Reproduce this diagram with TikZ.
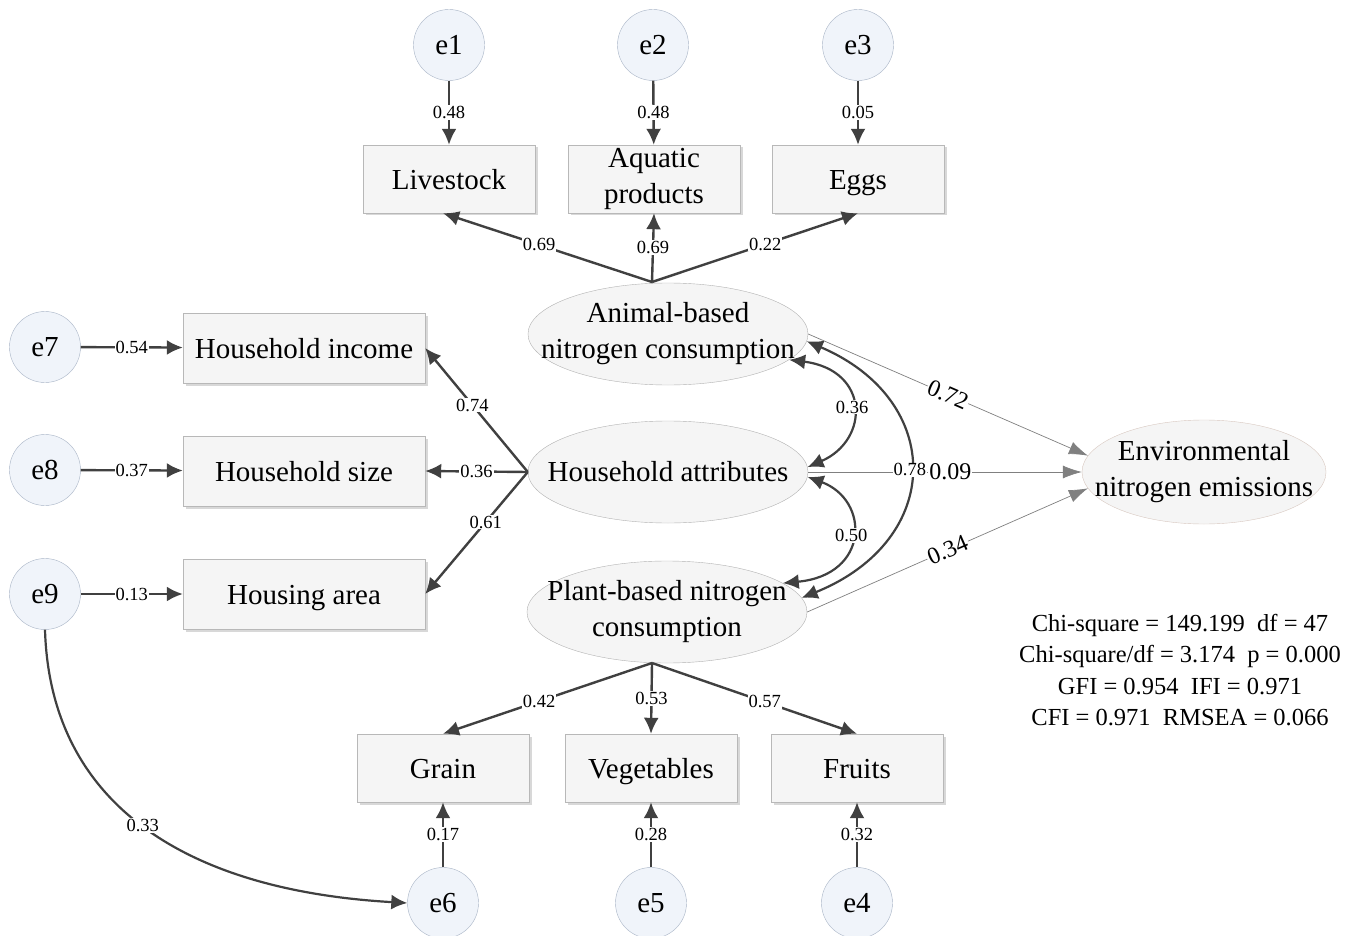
\documentclass[tikz,border=0pt]{standalone}
\usepackage{fontspec}
\setmainfont{Liberation Serif}
\usetikzlibrary{shapes.geometric,arrows.meta,shadows}
\newcommand\figbig{\fontsize{29}{36}\selectfont}
\newcommand\figsmall{\fontsize{18.5}{20}\selectfont}
\newcommand\figmid{\fontsize{24}{26}\selectfont}
\newcommand\nd[1]{\smash{#1}\vphantom{l}}
\definecolor{arrowc}{HTML}{404040}
\definecolor{errfill}{HTML}{F0F4FA}
\definecolor{errdraw}{HTML}{A8B4C6}
\definecolor{envdraw}{HTML}{D8C8C0}
\begin{document}
\begin{tikzpicture}[x=1pt,y=-1pt,
  box/.style={draw=black!28, fill=black!4, minimum width=172pt, minimum height=68pt, inner sep=0pt,
    font=\figbig, align=center, drop shadow={shadow xshift=2.5pt,shadow yshift=-2.5pt,fill=black!30,opacity=.5}},
  wbox/.style={box, minimum width=242pt, minimum height=70pt},
  lat/.style={ellipse, draw=black!30, fill=black!4, minimum width=280pt, minimum height=102pt,
    inner xsep=-60pt, inner ysep=-20pt, font=\figbig, align=center},
  envlat/.style={lat, draw=envdraw, minimum width=244pt, minimum height=104pt},
  err/.style={circle, draw=errdraw, fill=errfill, minimum size=71pt, inner sep=0pt, font=\figbig},
  pth/.style={draw=arrowc, line width=2.4pt, -{Latex[length=16pt,width=15pt]}},
  cov/.style={draw=arrowc, line width=2.2pt, {Latex[length=16pt,width=15pt]}-{Latex[length=16pt,width=15pt]}},
  thinp/.style={draw=black!50, line width=0.7pt, -{Latex[length=19pt,width=13pt]}},
  lab/.style={font=\figsmall, fill=white, inner sep=1pt},
  mlab/.style={font=\figmid, fill=white, inner sep=1pt}]
\useasboundingbox (0,0) rectangle (1354,936);
\fill[white] (0,0) rectangle (1354,936);

% top error terms and indicators
\node[err] (e1) at (449,45) {e1};
\node[err] (e2) at (653,45) {e2};
\node[err] (e3) at (858,45) {e3};
\node[box] (liv) at (449,179) {\nd{Livestock}};
\node[box] (aqu) at (654,179) {Aquatic\\products};
\node[box] (egg) at (858,179) {\nd{Eggs}};

% latent variables
\node[lat] (an) at (668,334) {Animal-based\\nitrogen consumption};
\node[lat] (ha) at (668,472) {Household attributes};
\node[lat] (pl) at (667,612) {Plant-based nitrogen\\consumption};
\node[envlat] (env) at (1204,472) {Environmental\\nitrogen emissions};

% left indicators
\node[wbox] (hi) at (304,348) {\nd{Household income}};
\node[wbox] (hs) at (304,471) {\nd{Household size}};
\node[wbox] (har) at (304,594) {\nd{Housing area}};
\node[err] (e7) at (45,347) {e7};
\node[err] (e8) at (45,470) {e8};
\node[err] (e9) at (45,594) {e9};

% bottom indicators
\node[box] (gr) at (443,768) {\nd{Grain}};
\node[box] (veg) at (651,768) {\nd{Vegetables}};
\node[box] (fru) at (857,768) {\nd{Fruits}};
\node[err] (e6) at (443,903) {e6};
\node[err] (e5) at (651,903) {e5};
\node[err] (e4) at (857,903) {e4};

% junction points
\coordinate (ja) at (652,282);
\coordinate (jp) at (652,663);

% error arrows
\draw[pth] (e1) -- node[lab]{0.48} (liv);
\draw[pth] (e2) -- node[lab]{0.48} (aqu);
\draw[pth] (e3) -- node[lab]{0.05} (egg);
\draw[pth] (e7) -- node[lab]{0.54} (hi);
\draw[pth] (e8) -- node[lab]{0.37} (hs);
\draw[pth] (e9) -- node[lab]{0.13} (har);
\draw[pth] (e6) -- node[lab]{0.17} (gr);
\draw[pth] (e5) -- node[lab]{0.28} (veg);
\draw[pth] (e4) -- node[lab]{0.32} (fru);

% loadings
\draw[pth] (ja) -- node[lab,pos=.54]{0.69} ([xshift=-6pt]liv.south);
\draw[pth] (ja) -- node[lab,pos=.5]{0.69} (aqu.south);
\draw[pth] (ja) -- node[lab,pos=.55]{0.22} (egg.south);

\draw[pth] (ha.west) -- node[lab,pos=.54]{0.74} (hi.east);
\draw[pth] (ha.west) -- node[lab,pos=.5]{0.36} (hs.east);
\draw[pth] (ha.west) -- node[lab,pos=.41]{0.61} (har.east);

\draw[pth] (jp) -- node[lab,pos=.54]{0.42} (gr.north);
\draw[pth] (jp) -- node[lab,pos=.5]{0.53} (veg.north);
\draw[pth] (jp) -- node[lab,pos=.55]{0.57} (fru.north);

% structural paths
\draw[thinp] (an.east) -- node[mlab,sloped,pos=.5]{0.72} (env.172);
\draw[thinp] (ha.east) -- node[mlab,pos=.52]{0.09} (env.west);
\draw[thinp] (pl.east) -- node[mlab,sloped,pos=.5]{0.34} (env.188);

% covariances
\draw[cov] (an.-12) .. controls (870,370) and (870,440) .. node[lab]{0.36} (ha.2);
\draw[cov] (ha.-2) .. controls (870,500) and (870,575) .. node[lab]{0.50} (pl.14);
\draw[cov] (an.-3) .. controls (945,400) and (945,540) .. node[lab]{0.78} (pl.6);

% correlated errors
\draw[draw=arrowc, line width=2.2pt, -{Latex[length=16pt,width=15pt]}] (e9.south) .. controls (50,800) and (180,890) .. node[lab]{0.33} (e6.west);

% fit indices
\node[font=\fontsize{24.5}{31.5}\selectfont, align=center] (fit) at (1180,670)
 {Chi-square = 149.199\ \ df = 47\\Chi-square/df = 3.174\ \ p = 0.000\\GFI = 0.954\ \ IFI = 0.971\\CFI = 0.971\ \ RMSEA = 0.066};
\end{tikzpicture}
\end{document}
